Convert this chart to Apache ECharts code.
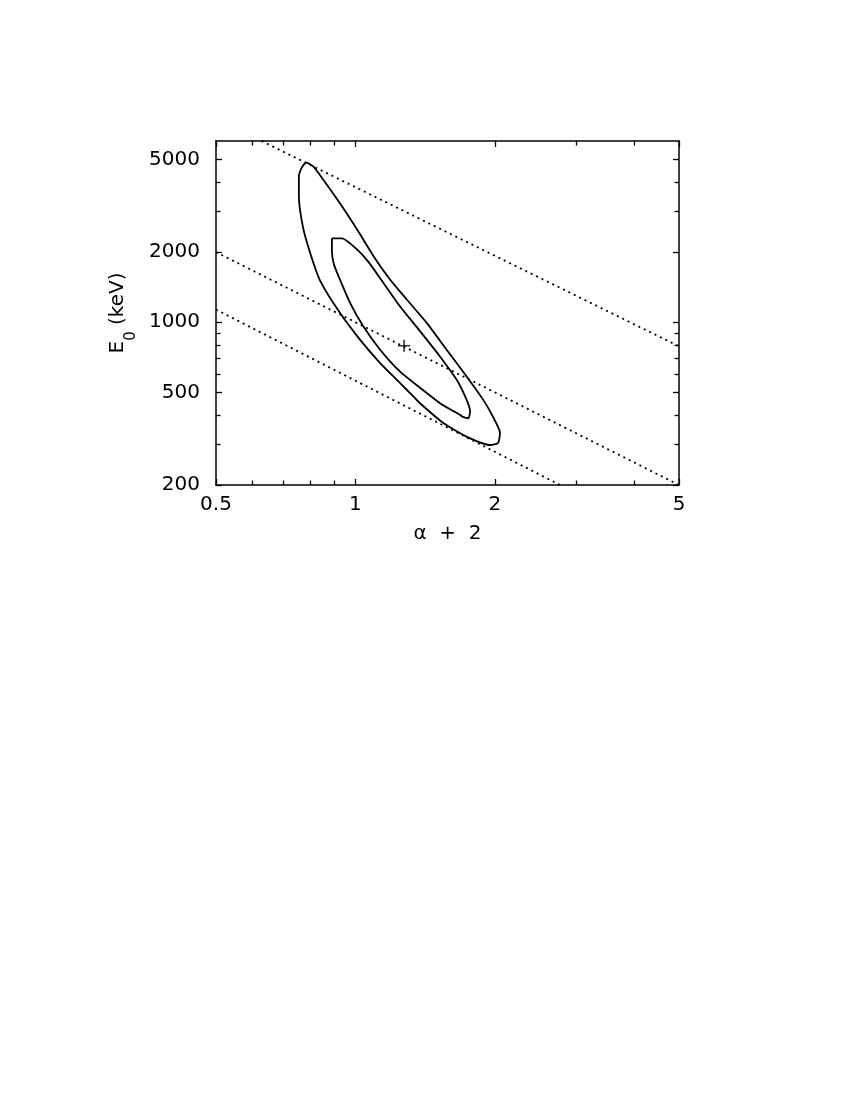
<!DOCTYPE html>
<html>
<head>
<meta charset="utf-8">
<script src="https://cdn.jsdelivr.net/npm/echarts@6/dist/echarts.min.js"></script>
<style>
html,body{margin:0;padding:0;background:#fff;}
#chart{width:850px;height:1100px;}
</style>
</head>
<body>
<div id="chart"></div>
<script>
// axis ranges & ticks
const xRange = [0.5, 5];
const yRange = [200, 6000];
const xMajorTicks = [0.5, 1, 2, 5];
const xMinorTicks = [0.6, 0.7, 0.8, 0.9, 3, 4];
const yMajorTicks = [200, 500, 1000, 2000, 5000];
const yMinorTicks = [300, 400, 600, 700, 800, 900, 3000, 4000];

// outer confidence contour [alpha+2, E0]
const outerContour = [
  [0.782, 4866], [0.810, 4677], [0.851, 4112], [0.926, 3241], [1.008, 2505],
  [1.092, 1936], [1.188, 1526], [1.291, 1252], [1.426, 993], [1.574, 762],
  [1.739, 585], [1.889, 464], [1.983, 392], [2.053, 335], [2.033, 303],
  [1.954, 297], [1.742, 322], [1.549, 369], [1.379, 449], [1.334, 480],
  [1.249, 548], [1.131, 668], [1.023, 842], [0.926, 1097], [0.839, 1510],
  [0.798, 1994], [0.770, 2580], [0.755, 3474], [0.755, 4236], [0.767, 4630],
  [0.782, 4866]
];
// inner confidence contour
const innerContour = [
  [0.890, 2292], [0.936, 2292], [1.008, 2054], [1.065, 1824], [1.136, 1526],
  [1.249, 1168], [1.379, 916], [1.523, 713], [1.655, 566], [1.739, 464],
  [1.769, 414], [1.754, 387], [1.708, 392], [1.683, 400], [1.523, 449],
  [1.379, 523], [1.249, 613], [1.131, 762], [1.040, 960], [0.974, 1211],
  [0.926, 1526], [0.899, 1770], [0.890, 2014], [0.890, 2292]
];
// best fit point
const bestFit = [[1.274, 793]];
// constant-Epeak dotted lines
const dottedLow = [[0.5, 1133], [2.767, 200]];
const dottedMid = [[0.5, 2000], [5, 200]];
const dottedHigh = [[0.627, 6000], [5, 788]];

const FONT = 'DejaVu Sans';
const chart = echarts.init(document.getElementById('chart'), null, {renderer: 'canvas'});

function fmt(v) { return String(+Number(v).toPrecision(6)); }

function xAx(pos, ticks, len, lineShow, labelShow, extra) {
  return Object.assign({
    type: 'log', logBase: 10, min: xRange[0], max: xRange[1], position: pos,
    axisLine: {show: lineShow, onZero: false, lineStyle: {color: '#000', width: 1.5}},
    axisTick: {show: true, inside: true, length: len, customValues: ticks, lineStyle: {color: '#000', width: 1.3}},
    axisLabel: {show: labelShow, customValues: ticks, margin: 10, color: '#000', fontFamily: FONT, fontSize: 20, formatter: fmt},
    splitLine: {show: false}, minorTick: {show: false}
  }, extra || {});
}
function yAx(pos, ticks, len, lineShow, labelShow, extra) {
  return Object.assign({
    type: 'log', logBase: 10, min: yRange[0], max: yRange[1], position: pos,
    axisLine: {show: lineShow, onZero: false, lineStyle: {color: '#000', width: 1.5}},
    axisTick: {show: true, inside: true, length: len, customValues: ticks, lineStyle: {color: '#000', width: 1.3}},
    axisLabel: {show: labelShow, customValues: ticks, margin: 16, color: '#000', fontFamily: FONT, fontSize: 20, formatter: fmt},
    splitLine: {show: false}, minorTick: {show: false}
  }, extra || {});
}

const solid = {color: '#000', width: 1.8};
const dotted = {color: '#000', width: 1.8, type: [2, 4]};

function lineSeries(data, style, smooth) {
  return {type: 'line', xAxisIndex: 0, yAxisIndex: 0, data: data, showSymbol: false, symbol: 'none',
    smooth: smooth || false, lineStyle: style, silent: true, animation: false, clip: true};
}

chart.setOption({
  animation: false,
  backgroundColor: '#fff',
  grid: {left: 216, top: 141, right: 171, bottom: 615, containLabel: false},
  xAxis: [
    xAx('bottom', xMajorTicks, 6, true, true, {
      name: 'α  +  2', nameLocation: 'middle', nameGap: 39,
      nameTextStyle: {color: '#000', fontFamily: FONT, fontSize: 20}
    }),
    xAx('bottom', xMinorTicks, 4.5, false, false),
    xAx('top', xMajorTicks, 6, true, false),
    xAx('top', xMinorTicks, 4.5, false, false)
  ],
  yAxis: [
    yAx('left', yMajorTicks, 6, true, true, {
      name: '{m|E}{s|0}{m| (keV)}', nameLocation: 'middle', nameGap: 82, nameRotate: 90,
      nameTextStyle: {color: '#000', fontFamily: FONT, fontSize: 20,
        rich: {m: {fontFamily: FONT, fontSize: 20, color: '#000'},
               s: {fontFamily: FONT, fontSize: 15, color: '#000', verticalAlign: 'bottom', padding: [0, 0, -10, 0]}}}
    }),
    yAx('left', yMinorTicks, 4.5, false, false),
    yAx('right', yMajorTicks, 6, true, false),
    yAx('right', yMinorTicks, 4.5, false, false)
  ],
  series: [
    lineSeries(dottedLow, dotted),
    lineSeries(dottedMid, dotted),
    lineSeries(dottedHigh, dotted),
    lineSeries(outerContour, solid, 0.2),
    lineSeries(innerContour, solid, 0.2),
    {
      type: 'scatter', xAxisIndex: 0, yAxisIndex: 0, data: bestFit,
      symbol: 'path://M5,0 L5,10 M0,5 L10,5', symbolSize: 12,
      itemStyle: {color: 'rgba(0,0,0,0)', borderColor: '#000', borderWidth: 1.6},
      silent: true, animation: false
    }
  ]
});
</script>
</body>
</html>
